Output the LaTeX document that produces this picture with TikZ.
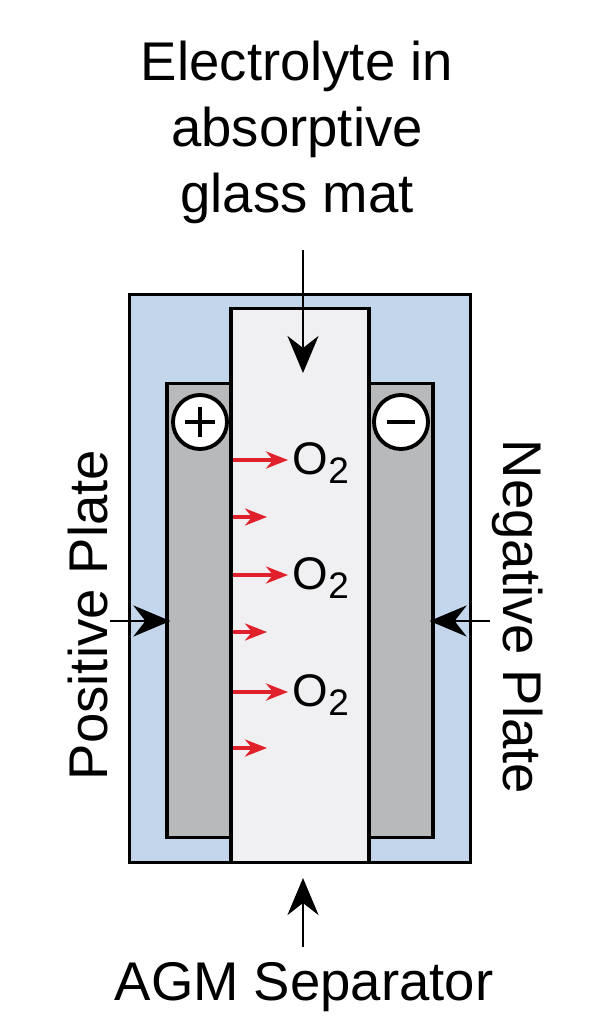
\documentclass[tikz,border=0pt]{standalone}
\usepackage{fontspec}
\setmainfont{Liberation Sans}
\usetikzlibrary{arrows.meta,positioning,calc}
\definecolor{matblue}{RGB}{196,214,236}
\definecolor{sepgray}{RGB}{240,240,242}
\definecolor{plategray}{RGB}{184,185,187}
\definecolor{oxred}{RGB}{224,32,42}

\begin{document}
\begin{tikzpicture}[x=0.01cm,y=-0.01cm,
    box/.style={draw,rectangle,line width=0.9pt,inner sep=0pt},
    case/.style={box,fill=matblue,minimum width=3.40cm,minimum height=5.67cm},
    separator/.style={box,fill=sepgray,minimum width=1.38cm,minimum height=5.53cm},
    plate/.style={box,fill=plategray,minimum width=0.64cm,minimum height=4.53cm},
    terminal/.style={draw,circle,fill=white,line width=1.1pt,minimum size=0.54cm,inner sep=0pt},
    sign/.style={line width=1.1pt},
    label/.style={font=\fontsize{15.5}{18.8}\selectfont,inner sep=0pt,align=center},
    oxy/.style={font=\fontsize{13}{14}\selectfont,inner sep=0pt,text height=0.32cm,text depth=0pt},
    bigarrow/.style={line width=0.8pt,-{Stealth[length=0.37cm,width=0.31cm]}},
    redarrow/.style={oxred,line width=1pt,-{Stealth[length=0.22cm,width=0.17cm]}}
  ]
    \useasboundingbox (0,0) rectangle (606,1024);

    % Cell body
    \node[case] (cell) at (300,578.5) {};
    \node[separator] (agm) at (300,585.5) {};
    \node[plate] (pos) at (199,610.5) {};
    \node[plate] (neg) at (401,610.5) {};

    % Terminals
    \node[terminal] (plus) at (200,422) {};
    \node[terminal] (minus) at (401,422) {};
    \draw[sign] ([xshift=-0.15cm]plus.center) -- ([xshift=0.15cm]plus.center);
    \draw[sign] ([yshift=-0.15cm]plus.center) -- ([yshift=0.15cm]plus.center);
    \draw[sign] ([xshift=-0.14cm]minus.center) -- ([xshift=0.14cm]minus.center);

    % Oxygen moving across the separator
    \foreach \y [count=\i] in {460,575,692} {
      \coordinate (tip\i) at (288,\y);
      \node[oxy,anchor=west] (o\i) at (292,\y-2) {O\raisebox{-2.6pt}{\fontsize{10.5}{11}\selectfont 2}};
      \draw[redarrow] (pos.east |- tip\i) -- (tip\i);
    }
    \foreach \y [count=\i] in {517,632,748} {
      \coordinate (stub\i) at (267,\y);
      \draw[redarrow] (pos.east |- stub\i) -- (stub\i);
    }

    % Labels
    \node[label,anchor=north] (elec) at (297,40) {Electrolyte in\\absorptive\\glass mat};
    \node[label,anchor=base] (sep) at (304,1000) {AGM Separator};
    \node[label,anchor=base,rotate=90] (poslabel) at (107,615) {Positive Plate};
    \node[label,anchor=base,rotate=-90] (neglabel) at (503,617) {Negative Plate};

    % Pointers
    \coordinate (sepin) at (303,373);
    \coordinate (sepout) at (303,878);
    \coordinate (pa) at (110,621);
    \coordinate (na) at (490,621);
    \draw[bigarrow,shorten <=0.26cm] (elec.south -| sepin) -- (sepin);
    \draw[bigarrow,shorten <=0.14cm] (sep.north -| sepout) -- (sepout);
    \draw[bigarrow,shorten >=-0.05cm] (pa) -- (pa -| pos.west);
    \draw[bigarrow,shorten >=-0.05cm] (na) -- (na -| neg.east);
  \end{tikzpicture}
\end{document}
